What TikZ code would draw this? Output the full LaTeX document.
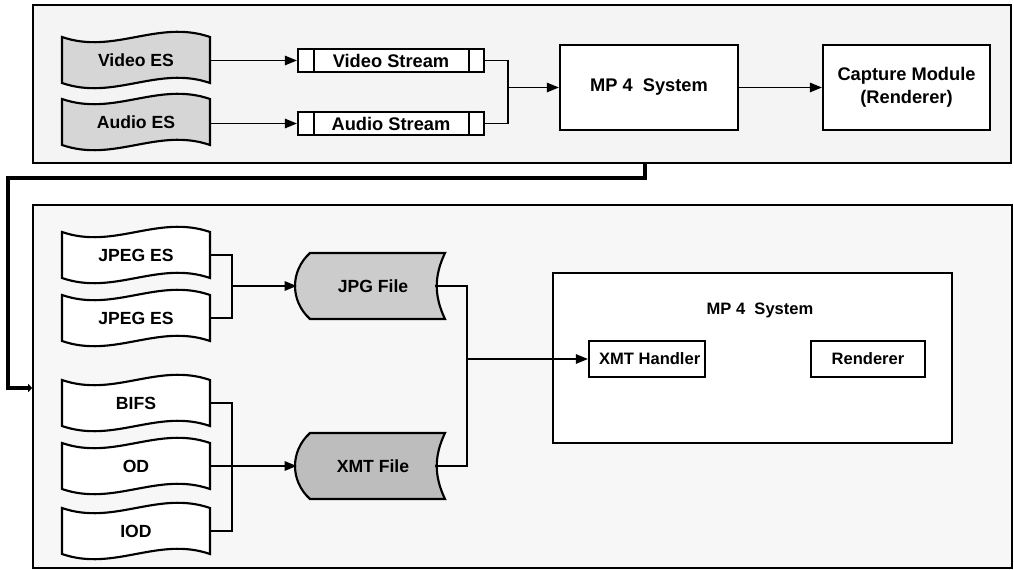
\documentclass[tikz,border=0pt]{standalone}
\usepackage{fontspec}
\setmainfont{Liberation Sans}
\usetikzlibrary{arrows.meta,calc}
\newcommand\wavenode[5]{% name, x, y, fill, text
  \path[draw=black,line width=1.6pt,fill=#4]
    ({#2-74},{#3-23}) .. controls ({#2-22},{#3-23+18}) and ({#2+22},{#3-23-18}) .. ({#2+74},{#3-23})
    -- ({#2+74},{#3+23}) .. controls ({#2+22},{#3+23-18}) and ({#2-22},{#3+23+18}) .. ({#2-74},{#3+23}) -- cycle;
  \node[wavetext] (#1) at (#2,#3) {#5};}
\newcommand\filenode[5]{% name, x, y, fill, text
  \path[draw=black,line width=1.6pt,fill=#4]
    ({#2-55},{#3-33}) -- ({#2+80},{#3-33}) .. controls ({#2+69},{#3-10}) and ({#2+69},{#3+10}) .. ({#2+80},{#3+33})
    -- ({#2-55},{#3+33}) .. controls ({#2-75},{#3+15}) and ({#2-75},{#3-15}) .. ({#2-55},{#3-33}) -- cycle;
  \node[filetext] (#1) at (#2,#3) {#5};}
\begin{document}
\begin{tikzpicture}[x=0.75pt,y=-0.75pt,
  font=\bfseries\fontsize{13.2}{16}\selectfont,
  panel/.style={draw=black,line width=1.2pt,inner sep=0pt},
  wavetext/.style={minimum width=111pt,minimum height=34.5pt,inner sep=0pt},
  filetext/.style={minimum width=105pt,minimum height=49pt,inner sep=0pt,xshift=6pt},
  box/.style={draw=black,line width=1.6pt,fill=white,inner sep=0pt,align=center},
  bigfont/.style={font=\bfseries\fontsize{13.7}{17}\selectfont},
  smallfont/.style={font=\bfseries\fontsize{12.4}{15}\selectfont},
  conn/.style={draw=black,line width=1.25pt},
  arr/.style={conn,-{Triangle[length=9pt,width=7pt]}},
  fbline/.style={draw=black,line width=2.3pt,-{Triangle[length=3pt,width=6pt]}}
]
\useasboundingbox (0,0) rectangle (1014,570);
% panels
\node[panel,fill=gray!9,minimum width=733.5pt,minimum height=118.5pt] (toppanel) at (522,84) {};
\node[panel,fill=gray!6,minimum width=734.25pt,minimum height=272.25pt] (botpanel) at (522.5,386.5) {};

% ---- top panel ----
\wavenode{ves}{136}{60}{gray!32}{Video ES}
\wavenode{aes}{136}{122}{gray!32}{Audio ES}
\node[box,bigfont,minimum width=139.5pt,minimum height=17.25pt] (vstr) at (391,60.5) {Video Stream};
\node[box,bigfont,minimum width=139.5pt,minimum height=17.25pt] (astr) at (391,123.5) {Audio Stream};
\foreach \s in {vstr,astr}{
  \draw[line width=1.1pt] ($(\s.north west)+(17,0)$) -- ($(\s.south west)+(17,0)$);
  \draw[line width=1.1pt] ($(\s.north east)+(-16,0)$) -- ($(\s.south east)+(-16,0)$);
}
\node[box,bigfont,minimum width=133.5pt,minimum height=63.75pt] (mpa) at (649,87.5) {MP 4\ \ System};
\node[box,bigfont,minimum width=125.25pt,minimum height=63.75pt] (cap) at (906.5,87.5) {Capture Module\\(Renderer)};

\draw[arr] (ves.east |- vstr.west) -- (vstr.west);
\draw[arr] (aes.east |- astr.west) -- (astr.west);
\coordinate (j1) at (508,87.5);
\draw[conn] (vstr.east) -| (j1) |- (astr.east);
\draw[arr] (j1) -- (mpa.west);
\draw[arr] (mpa.east) -- (cap.west);

% feedback
\coordinate (fb1) at (645,178);
\coordinate (fb2) at (8,388);
\draw[fbline] (toppanel.south -| fb1) -- (fb1) -| (fb2) -- (botpanel.west |- fb2);

% ---- bottom panel ----
\wavenode{jpa}{136}{255}{white}{JPEG ES}
\wavenode{jpb}{136}{318}{white}{JPEG ES}
\wavenode{bifs}{136}{403}{white}{BIFS}
\wavenode{od}{136}{466}{white}{OD}
\wavenode{iod}{136}{531}{white}{IOD}

\filenode{jpg}{365}{286}{gray!40}{JPG File}
\filenode{xmt}{365}{466}{gray!52}{XMT File}

\node[box,minimum width=299.25pt,minimum height=127.5pt] (mpb) at (752.5,358) {};
\node[smallfont] (mpblabel) at (760,310) {MP 4\ \ System};
\node[box,smallfont,minimum width=87pt,minimum height=27pt] (xh) at (647,359) {\hspace*{4pt}XMT Handler};
\node[box,smallfont,minimum width=85.5pt,minimum height=27pt] (ren) at (868,359) {Renderer};

\coordinate (j2) at (232,286);
\draw[conn] (jpa.east) -| (j2) |- (jpb.east);
\draw[arr] (j2) -- ($(jpg.west)+(-6,0)$);
\coordinate (j3) at (232,466);
\draw[conn] (bifs.east) -| (j3) |- (iod.east);
\draw[arr] (od.east) -- ($(xmt.west)+(-6,0)$);
\coordinate (j4) at (467,359);
\draw[conn] ($(jpg.east)+(-8,0)$) -| (j4) |- ($(xmt.east)+(-8,0)$);
\draw[arr] (j4) -- (xh.west);
\end{tikzpicture}
\end{document}
